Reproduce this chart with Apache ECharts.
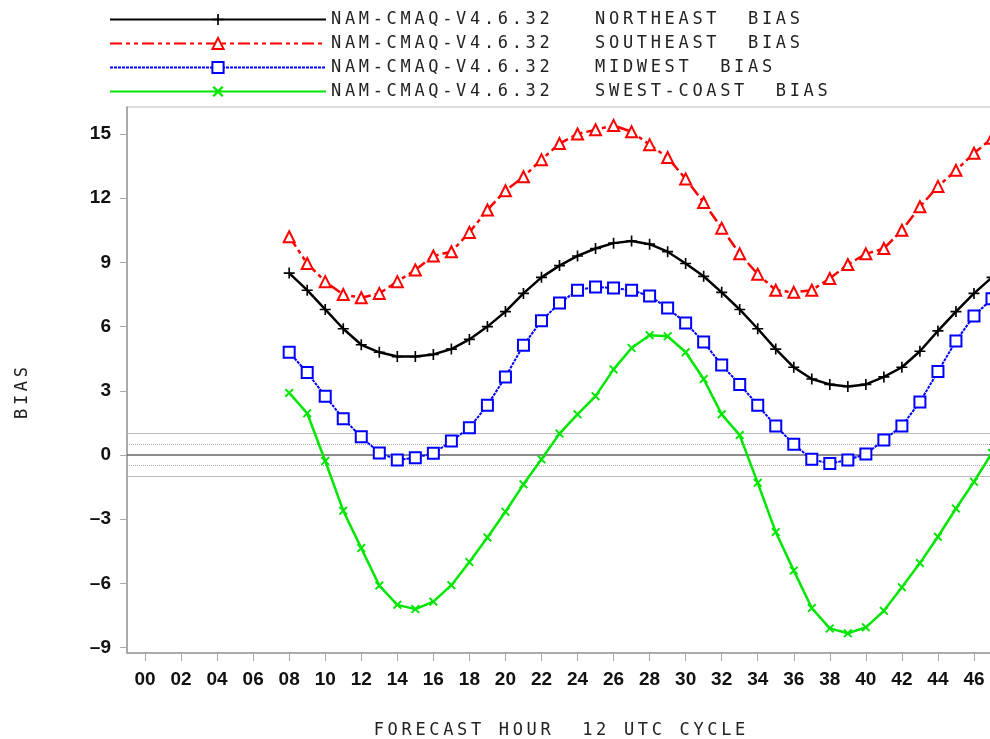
<!DOCTYPE html>
<html>
<head>
<meta charset="utf-8">
<script src="https://cdn.jsdelivr.net/npm/echarts@6/dist/echarts.min.js"></script>
<style>
  html, body { margin: 0; padding: 0; background: #fff; }
  #chart { width: 990px; height: 739px; }
</style>
</head>
<body>
<div id="chart"></div>
<script>
// forecast hours 08..47
var hours = [8, 9, 10, 11, 12, 13, 14, 15, 16, 17, 18, 19, 20, 21, 22, 23, 24, 25, 26, 27,
  28, 29, 30, 31, 32, 33, 34, 35, 36, 37, 38, 39, 40, 41, 42, 43, 44, 45, 46, 47];

var northeast = [8.5, 7.7, 6.8, 5.9, 5.15, 4.8, 4.6, 4.6, 4.7, 4.95, 5.4, 6.0, 6.7, 7.55, 8.3, 8.85, 9.3, 9.65, 9.9, 10.0,
  9.85, 9.5, 8.95, 8.35, 7.6, 6.8, 5.9, 4.95, 4.1, 3.55, 3.3, 3.2, 3.3, 3.65, 4.1, 4.85, 5.8, 6.7, 7.55, 8.3];
var southeast = [10.2, 8.95, 8.1, 7.5, 7.35, 7.55, 8.1, 8.65, 9.3, 9.5, 10.4, 11.45, 12.35, 13.0, 13.8, 14.55, 15.0, 15.2, 15.4, 15.1,
  14.5, 13.9, 12.9, 11.8, 10.6, 9.4, 8.45, 7.7, 7.6, 7.7, 8.25, 8.9, 9.4, 9.65, 10.5, 11.6, 12.55, 13.3, 14.1, 14.8];
var midwest = [4.8, 3.85, 2.75, 1.7, 0.85, 0.1, -0.23, -0.13, 0.08, 0.65, 1.27, 2.33, 3.65, 5.13, 6.27, 7.1, 7.7, 7.85, 7.8, 7.7,
  7.43, 6.87, 6.17, 5.28, 4.2, 3.3, 2.33, 1.36, 0.5, -0.2, -0.4, -0.23, 0.05, 0.7, 1.36, 2.48, 3.9, 5.33, 6.5, 7.3];
var swestCoast = [2.9, 1.95, -0.28, -2.6, -4.35, -6.1, -7.0, -7.2, -6.85, -6.08, -5.0, -3.85, -2.65, -1.37, -0.2, 1.0, 1.9, 2.75, 4.0, 5.0,
  5.6, 5.55, 4.8, 3.55, 1.9, 0.93, -1.3, -3.6, -5.4, -7.15, -8.1, -8.33, -8.05, -7.28, -6.18, -5.05, -3.82, -2.5, -1.25, 0.1];

var seriesNames = [
  'NAM-CMAQ-V4.6.32   NORTHEAST  BIAS',
  'NAM-CMAQ-V4.6.32   SOUTHEAST  BIAS',
  'NAM-CMAQ-V4.6.32   MIDWEST  BIAS',
  'NAM-CMAQ-V4.6.32   SWEST-COAST  BIAS'
];
var xTicks = [0, 2, 4, 6, 8, 10, 12, 14, 16, 18, 20, 22, 24, 26, 28, 30, 32, 34, 36, 38, 40, 42, 44, 46];
var yTicks = [-9, -6, -3, 0, 3, 6, 9, 12, 15];
var xTitle = 'FORECAST HOUR  12 UTC CYCLE';
var yTitle = 'BIAS';

var monoFont = 'DejaVu Sans Mono';
var labelFont = 'Liberation Sans';

// wide fixed-pitch text: one rich token per character
function mono(str) {
  return str.split('').map(function (ch) { return '{c|' + ch + '}'; }).join('');
}
var monoRich = { c: { width: 13.9, fontFamily: monoFont, fontSize: 17, lineHeight: 14, color: '#222' } };

function pairs(vals) {
  return vals.map(function (v, i) { return [hours[i], v]; });
}

var plusPath = 'path://M4.25,0H5.75V4.25H10V5.75H5.75V10H4.25V5.75H0V4.25H4.25Z';
var crossPath = 'path://M0,1.5L1.5,0L5,3.5L8.5,0L10,1.5L6.5,5L10,8.5L8.5,10L5,6.5L1.5,10L0,8.5L3.5,5Z';

var chart = echarts.init(document.getElementById('chart'));

chart.setOption({
  backgroundColor: '#fff',
  animation: false,
  legend: {
    orient: 'vertical',
    left: 104,
    top: 6,
    itemWidth: 216,
    itemHeight: 14,
    itemGap: 7,
    data: seriesNames,
    formatter: function (name) { return mono(name); },
    textStyle: { rich: monoRich }
  },
  grid: {
    left: 127,
    right: -2,
    top: 107,
    bottom: 86,
    outerBoundsMode: 'none',
    show: true,
    borderColor: '#bbb',
    borderWidth: 1
  },
  xAxis: {
    type: 'value',
    min: -1,
    max: 47,
    name: mono(xTitle),
    nameLocation: 'middle',
    nameGap: 71,
    nameTextStyle: { rich: monoRich },
    axisLine: { show: true, onZero: false, lineStyle: { color: '#999', width: 1.5 } },
    axisTick: { show: true, length: 8, customValues: xTicks, lineStyle: { color: '#aaa' } },
    axisLabel: {
      customValues: xTicks,
      margin: 17,
      fontFamily: labelFont,
      fontWeight: 'bold',
      fontSize: 19,
      color: '#111',
      formatter: function (v) { return (v < 10 ? '0' : '') + v; }
    },
    splitLine: { show: false }
  },
  yAxis: {
    type: 'value',
    min: -9.25,
    max: 16.26,
    name: mono(yTitle),
    nameLocation: 'middle',
    nameRotate: 90,
    nameGap: 97,
    nameTextStyle: { rich: monoRich, padding: [0, 26, 0, 0] },
    axisLine: { show: true, onZero: false, lineStyle: { color: '#999', width: 1.5 } },
    axisTick: { show: true, length: 7, customValues: yTicks, lineStyle: { color: '#aaa' } },
    axisLabel: {
      customValues: yTicks,
      margin: 16,
      fontFamily: labelFont,
      fontWeight: 'bold',
      fontSize: 19,
      color: '#111',
      formatter: function (v) { return v < 0 ? '\u2013' + Math.abs(v) : String(v); }
    },
    splitLine: { show: false }
  },
  series: [
    {
      name: seriesNames[0],
      type: 'line',
      data: pairs(northeast),
      symbol: plusPath,
      symbolSize: 11,
      color: '#000',
      lineStyle: { width: 2.5, color: '#000' },
      markLine: {
        silent: true,
        symbol: ['none', 'none'],
        label: { show: false },
        z: 1,
        data: [
          { yAxis: 0, lineStyle: { color: '#666', width: 1.5, type: 'solid' } },
          { yAxis: 0.5, lineStyle: { color: '#aaa', width: 1, type: 'dotted' } },
          { yAxis: -0.5, lineStyle: { color: '#aaa', width: 1, type: 'dotted' } },
          { yAxis: 1, lineStyle: { color: '#bbb', width: 1, type: 'solid' } },
          { yAxis: -1, lineStyle: { color: '#bbb', width: 1, type: 'solid' } }
        ]
      }
    },
    {
      name: seriesNames[1],
      type: 'line',
      data: pairs(southeast),
      symbol: 'emptyTriangle',
      symbolSize: 11,
      color: '#ff0000',
      itemStyle: { borderWidth: 1.8 },
      lineStyle: { width: 2.5, color: '#ff0000', type: [12, 4, 4, 4, 4, 4] }
    },
    {
      name: seriesNames[2],
      type: 'line',
      data: pairs(midwest),
      symbol: 'emptyRect',
      symbolSize: 11,
      color: '#0000ff',
      itemStyle: { borderWidth: 1.8 },
      lineStyle: { width: 2, color: '#0000ff', type: [3, 1] }
    },
    {
      name: seriesNames[3],
      type: 'line',
      data: pairs(swestCoast),
      symbol: crossPath,
      symbolSize: 9,
      color: '#00e600',
      lineStyle: { width: 2.5, color: '#00e600' }
    }
  ]
});
</script>
</body>
</html>
